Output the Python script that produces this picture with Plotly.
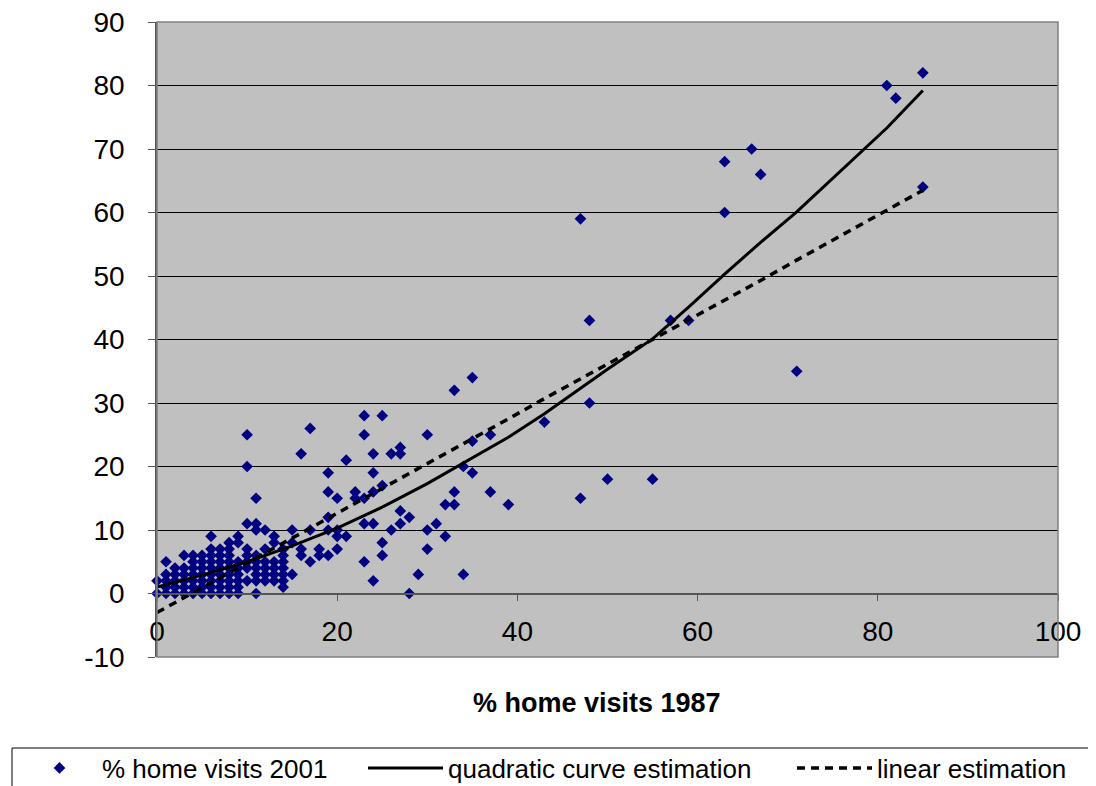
import plotly.graph_objects as go

# ---- data ----
# scatter points grouped by y value (% home visits 2001): list of x values (% home visits 1987)
rows = {
    0: [0, 1, 2, 3, 4, 5, 6, 7, 8, 9, 11, 28],
    1: [1, 2, 3, 4, 5, 6, 7, 8, 9, 14],
    2: [0, 1, 2, 3, 4, 5, 6, 7, 8, 9, 10, 11, 12, 13, 14, 24],
    3: [1, 2, 3, 4, 5, 6, 7, 8, 9, 11, 12, 13, 14, 15, 29, 34],
    4: [2, 3, 4, 5, 6, 7, 8, 9, 10, 11, 12, 13, 14],
    5: [1, 4, 5, 6, 7, 8, 9, 10, 11, 12, 13, 14, 17, 23],
    6: [3, 4, 5, 6, 7, 8, 10, 11, 14, 16, 18, 19, 25],
    7: [6, 7, 8, 10, 12, 14, 16, 18, 20, 30],
    8: [8, 9, 13, 15, 25],
    9: [6, 9, 13, 20, 21, 32],
    10: [11, 12, 15, 17, 19, 20, 26, 30],
    11: [10, 11, 23, 24, 27, 31],
    12: [19, 28],
    13: [27],
    14: [32, 33, 39],
    15: [11, 20, 22, 23, 47],
    16: [19, 22, 24, 33, 37],
    17: [25],
    18: [50, 55],
    19: [19, 24, 35],
    20: [10, 34],
    21: [21],
    22: [16, 24, 26, 27],
    23: [27],
    24: [35],
    25: [10, 23, 30, 37],
    26: [17],
    27: [43],
    28: [23, 25],
    30: [48],
    32: [33],
    34: [35],
    35: [71],
    43: [48, 57, 59],
    59: [47],
    60: [63],
    64: [85],
    66: [67],
    68: [63],
    70: [66],
    78: [82],
    80: [81],
    82: [85],
}

fit_x = [0, 5, 10, 15, 20, 25, 30, 35, 39, 43, 47, 50, 55, 59, 63, 67, 71, 81, 85]
quad_y = [1.0, 2.9, 5.0, 7.5, 10.3, 13.6, 17.3, 21.3, 24.6, 28.3, 32.3, 35.3,
          40.1, 45.1, 50.3, 55.3, 60.1, 73.3, 79.2]
lin_y = [-3.0, 0.9, 4.8, 8.7, 12.6, 16.5, 20.4, 24.3, 27.5, 30.7, 33.8, 36.1,
         40.0, 43.1, 46.1, 49.3, 52.5, 60.4, 63.5]

x_ticks = [0, 20, 40, 60, 80, 100]
y_ticks = [-10, 0, 10, 20, 30, 40, 50, 60, 70, 80, 90]
y_tick_text = ["-10", "0", "10", "20", "30", "40", "50", "60", "70", "80", "90"]

pts_x = []
pts_y = []
for yv, xs in rows.items():
    for xv in xs:
        pts_x.append(xv)
        pts_y.append(yv)

FONT = "Liberation Sans, Arial, sans-serif"

# the page body adds an 8px margin; work in screenshot pixels and shift
OFF = 8
W, H = 1096 - OFF, 786 - OFF
L, R, T, B = 157 - OFF, 1058 - OFF, 22 - OFF, 657 - OFF
PW, PH = R - L, B - T


def px_x(p):
    return (p - OFF - L) / PW


def px_y(p):
    return (B - (p - OFF)) / PH


fig = go.Figure()
fig.add_trace(go.Scatter(
    x=pts_x, y=pts_y, mode="markers", name="% home visits 2001",
    marker=dict(symbol="diamond", size=9, color="#000080", line=dict(width=0)),
    cliponaxis=False, legend="legend",
))
fig.add_trace(go.Scatter(
    x=fit_x, y=quad_y, mode="lines", name="quadratic curve estimation",
    line=dict(color="black", width=3), legend="legend2",
))
fig.add_trace(go.Scatter(
    x=fit_x, y=lin_y, mode="lines", name="linear estimation",
    line=dict(color="black", width=3.5, dash="8px,6px"), legend="legend3",
))

leg_common = dict(
    orientation="h", yanchor="middle", y=px_y(768), xanchor="left",
    bgcolor="rgba(0,0,0,0)", borderwidth=0, itemwidth=75,
    font=dict(family=FONT, size=26, color="black"),
)

fig.update_layout(
    width=W, height=H,
    margin=dict(l=L, r=W - R, t=T, b=H - B, pad=0, autoexpand=False),
    paper_bgcolor="white",
    plot_bgcolor="#C0C0C0",
    font=dict(family=FONT, size=28, color="black"),
    showlegend=True,
    legend=dict(x=px_x(17), **leg_common),
    legend2=dict(x=px_x(363), **leg_common),
    legend3=dict(x=px_x(792), **leg_common),
    xaxis=dict(
        range=[0, 100], tickvals=x_ticks, ticks="outside", ticklen=7,
        tickcolor="#555555", showgrid=False, zeroline=False,
        showline=True, linecolor="#555555", linewidth=1.5,
        anchor="free", position=0.1, ticklabelstandoff=6,
        ticklabeloverflow="allow", tickfont=dict(size=28),
    ),
    yaxis=dict(
        range=[-10, 90], tickvals=y_ticks, ticktext=y_tick_text,
        ticks="outside", ticklen=7,
        tickcolor="#555555", showgrid=True, gridcolor="black", gridwidth=1,
        zeroline=False, showline=True, linecolor="#555555", linewidth=1.5,
        ticklabelstandoff=18, ticklabeloverflow="allow", tickfont=dict(size=28),
    ),
    annotations=[dict(
        text="<b>% home visits 1987</b>", xref="paper", yref="paper",
        x=px_x(596.5), y=px_y(703), xanchor="center", yanchor="middle",
        showarrow=False, font=dict(family=FONT, size=27, color="black"),
    )],
    shapes=[
        dict(type="rect", xref="paper", yref="paper", x0=0, y0=0, x1=1, y1=1,
             line=dict(color="#808080", width=1.5), layer="above"),
        dict(type="rect", xref="paper", yref="paper",
             x0=px_x(12), x1=px_x(1090), y0=px_y(748), y1=px_y(800),
             line=dict(color="black", width=1), fillcolor="rgba(0,0,0,0)",
             layer="below"),
    ],
)

fig.write_html("out.html")
